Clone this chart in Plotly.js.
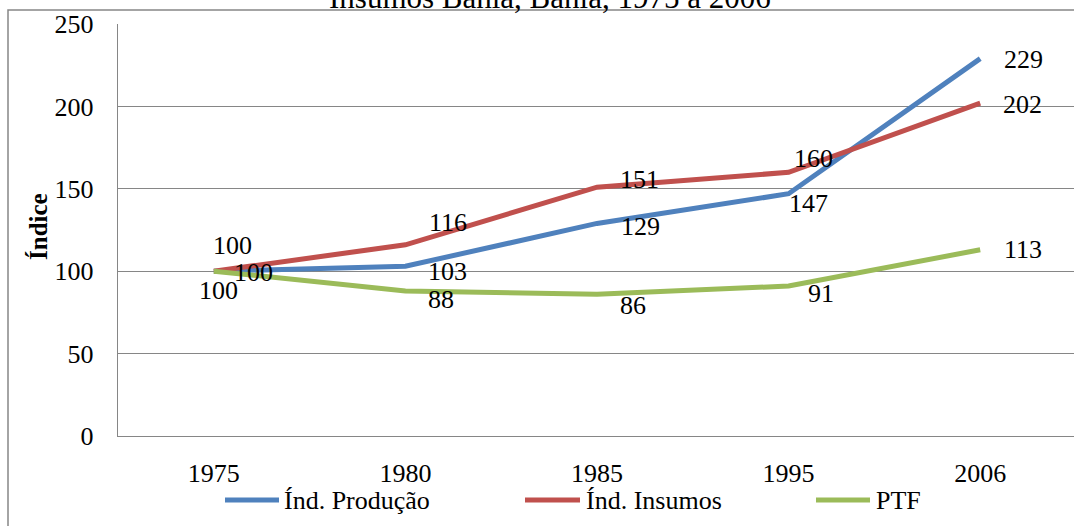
<!DOCTYPE html>
<html>
<head>
<meta charset="utf-8">
<script src="https://cdn.plot.ly/plotly-3.0.1.min.js"></script>
<style>
html,body{margin:0;padding:0;overflow:hidden;background:#fff;}
#chart{width:1080px;height:526px;}
</style>
</head>
<body>
<div id="chart"></div>
<script>
// ---- data ----
const years = ["1975", "1980", "1985", "1995", "2006"];
const seriesNames = ["Índ. Produção", "Índ. Insumos", "PTF"];
const producao = [100, 103, 129, 147, 229];
const insumos = [100, 116, 151, 160, 202];
const ptf = [100, 88, 86, 91, 113];
const yTicks = [0, 50, 100, 150, 200, 250];
const titleText = "Insumos Bahia, Bahia, 1975 a 2006";
const yTitle = "Índice";

// ---- style ----
const colors = ["#4F81BD", "#C0504D", "#9BBB59"];
const FONT = "Liberation Serif, Times New Roman, serif";
const FS = 26;
// label offsets in px (dx right, dy down) for each series/point
const labelOffsets = [
  [[40, 1], [42, 5], [43, 3], [20, 10], [43, 1]],
  [[19, -26], [43, -22], [42, -8], [25, -14], [42, 1]],
  [[5, 19], [36, 9], [36, 11], [32, 7], [43, 0]]
];

// plot geometry (pixels)
const W = 1080, H = 526, L = 118, R = 4, T = 24, B = 90;
const pw = W - L - R, ph = H - T - B;
const px = x => (x - L) / pw;
const py = y => (T + ph - y) / ph;

const allSeries = [producao, insumos, ptf];
const traces = allSeries.map((vals, i) => ({
  type: "scatter", mode: "lines", x: years, y: vals, name: seriesNames[i],
  line: {color: colors[i], width: 5}, showlegend: false, hoverinfo: "skip"
}));

const annotations = [];
allSeries.forEach((vals, i) => {
  vals.forEach((v, j) => {
    annotations.push({
      x: j, y: v, xref: "x", yref: "y", text: String(v), showarrow: false,
      xanchor: "center", yanchor: "middle",
      xshift: labelOffsets[i][j][0], yshift: -labelOffsets[i][j][1],
      font: {family: FONT, size: FS, color: "#000"}
    });
  });
});

// title (partially cut off at top, as in reference)
annotations.push({
  text: titleText, xref: "paper", yref: "paper", x: px(550), y: py(17),
  xanchor: "center", yanchor: "bottom", showarrow: false,
  font: {family: FONT, size: 31, color: "#000"}
});

// y axis title
annotations.push({
  text: "<b>" + yTitle + "</b>", xref: "paper", yref: "paper", x: px(38), y: py(227),
  xanchor: "center", yanchor: "middle", textangle: -90, showarrow: false,
  font: {family: FONT, size: 25, color: "#000"}
});

// legend (manual)
const legLineX = [[225, 279], [525, 580], [816, 870]];
const legTextX = [282, 584, 874];
const legY = 500;
const shapes = [];
seriesNames.forEach((n, i) => {
  shapes.push({type: "line", xref: "paper", yref: "paper",
    x0: px(legLineX[i][0]), x1: px(legLineX[i][1]), y0: py(legY), y1: py(legY),
    line: {color: colors[i], width: 5}});
  annotations.push({text: n, xref: "paper", yref: "paper", x: px(legTextX[i]), y: py(legY),
    xanchor: "left", yanchor: "middle", showarrow: false,
    font: {family: FONT, size: FS, color: "#000"}});
});

// outer chart frame
shapes.push({type: "rect", xref: "paper", yref: "paper",
  x0: px(8), x1: px(1079), y0: py(540), y1: py(10),
  line: {color: "#868686", width: 1.5}, fillcolor: "rgba(0,0,0,0)", layer: "below"});

const layout = {
  width: W, height: H,
  margin: {l: L, r: R, t: T, b: B, pad: 0},
  paper_bgcolor: "#fff", plot_bgcolor: "#fff",
  showlegend: false,
  font: {family: FONT, size: FS, color: "#000"},
  xaxis: {
    type: "category", range: [-0.5, 4.5], showgrid: false, zeroline: false,
    showline: true, linecolor: "#868686", linewidth: 1.3, ticks: "",
    ticklabelstandoff: 13, tickfont: {family: FONT, size: FS, color: "#000"}, fixedrange: true
  },
  yaxis: {
    range: [0, 250], tickvals: yTicks, showgrid: true, gridcolor: "#868686", gridwidth: 1.3,
    zeroline: false, showline: true, linecolor: "#868686", linewidth: 1.3, ticks: "",
    ticklabelstandoff: 18, tickfont: {family: FONT, size: FS, color: "#000"},
    fixedrange: true
  },
  shapes: shapes,
  annotations: annotations
};

Plotly.newPlot("chart", traces, layout, {displayModeBar: false, staticPlot: true});
</script>
</body>
</html>
